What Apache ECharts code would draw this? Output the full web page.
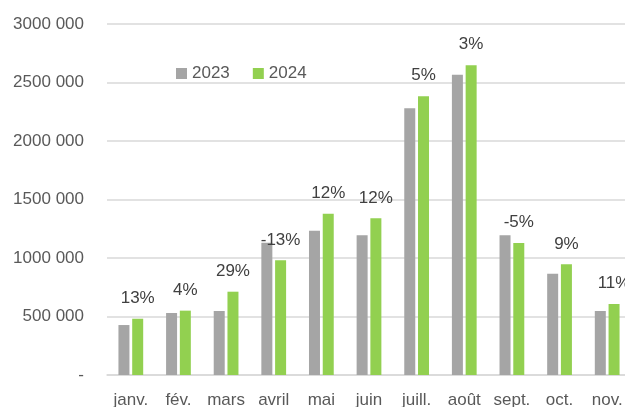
<!DOCTYPE html>
<html>
<head>
<meta charset="utf-8">
<script src="https://cdn.jsdelivr.net/npm/echarts@6/dist/echarts.min.js"></script>
<style>
html,body{margin:0;padding:0;background:#fff;}
#chart{width:625px;height:407px;}
</style>
</head>
<body>
<div id="chart"></div>
<script>
// mois affichés
var months = ['janv.', 'fév.', 'mars', 'avril', 'mai', 'juin', 'juill.', 'août', 'sept.', 'oct.', 'nov.'];
// valeurs
var values2023 = [427000, 530000, 547000, 1131000, 1233000, 1194000, 2279000, 2567000, 1194000, 866000, 547000];
var values2024 = [481000, 550000, 712000, 980000, 1379000, 1339000, 2382000, 2647000, 1128000, 946000, 607000];
// variations affichées au-dessus des barres 2024
var evolution = ['13%', '4%', '29%', '-13%', '12%', '12%', '5%', '3%', '-5%', '9%', '11%'];

var font = 'Liberation Sans, Arial, sans-serif';
var myChart = echarts.init(document.getElementById('chart'));

var option = {
    animation: false,
    textStyle: {fontFamily: font},
    legend: {
        data: ['2023', '2024'],
        left: 171,
        top: 60,
        itemWidth: 11,
        itemHeight: 11,
        itemGap: 23,
        icon: 'rect',
        textStyle: {fontSize: 17, color: '#595959', fontFamily: font}
    },
    grid: {left: 107, right: -6, top: 24, bottom: 32, containLabel: false, outerBoundsMode: 'none'},
    xAxis: {
        type: 'category',
        data: months,
        axisTick: {show: false},
        axisLine: {lineStyle: {color: '#d9d9d9', width: 1.5}},
        axisLabel: {interval: 0, fontSize: 17, color: '#595959', margin: 17, fontFamily: font}
    },
    yAxis: {
        type: 'value',
        min: 0,
        max: 3000000,
        interval: 500000,
        axisLine: {show: false},
        axisTick: {show: false},
        splitLine: {lineStyle: {color: '#d9d9d9', width: 1.5}},
        axisLabel: {
            fontSize: 17,
            color: '#595959',
            margin: 23,
            fontFamily: font,
            formatter: function (v) {
                if (v === 0) return '-';
                return Math.floor(v / 1000) + ' 000';
            }
        }
    },
    series: [{
        name: '2023',
        type: 'bar',
        data: values2023,
        barWidth: 11,
        barGap: '25%',
        itemStyle: {color: '#a5a5a5'}
    }, {
        name: '2024',
        type: 'bar',
        data: values2024,
        barWidth: 11,
        itemStyle: {color: '#92d050'},
        label: {
            show: true,
            position: 'top',
            distance: 12,
            fontSize: 17,
            color: '#404040',
            fontFamily: font,
            formatter: function (p) { return evolution[p.dataIndex]; }
        }
    }]
};
myChart.setOption(option);
</script>
</body>
</html>
